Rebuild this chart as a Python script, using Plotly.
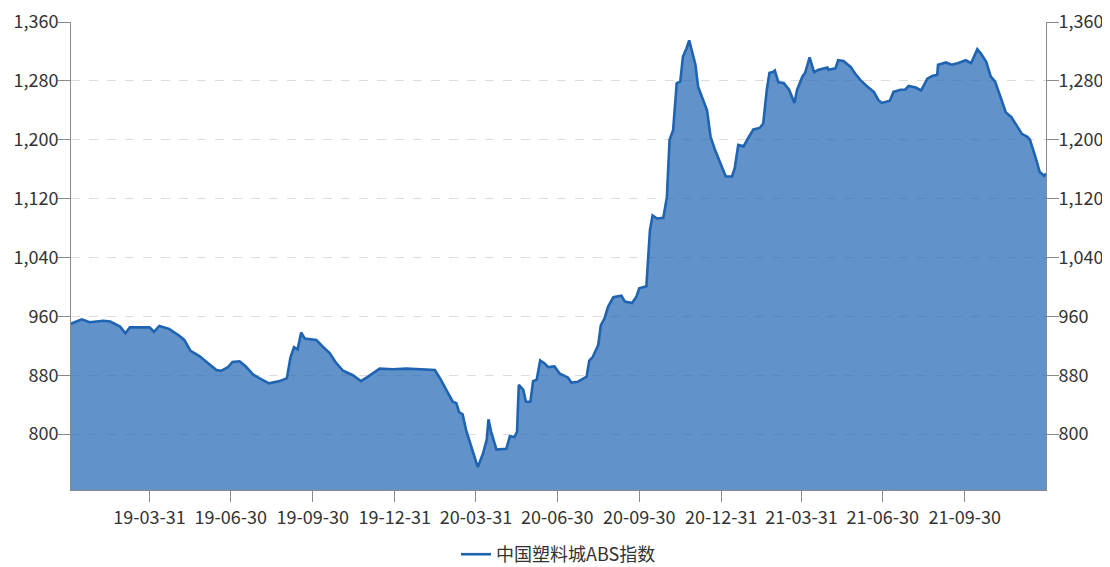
import plotly.graph_objects as go

dates = [
    "2019-01-02", "2019-01-14", "2019-01-23", "2019-02-07", "2019-02-15", "2019-02-26",
    "2019-03-04", "2019-03-09", "2019-03-31", "2019-04-05", "2019-04-11", "2019-04-22",
    "2019-05-03", "2019-05-09", "2019-05-16", "2019-05-26", "2019-06-04", "2019-06-14",
    "2019-06-19", "2019-06-27", "2019-07-02", "2019-07-10", "2019-07-17", "2019-07-25",
    "2019-08-01", "2019-08-12", "2019-08-24", "2019-09-01", "2019-09-05", "2019-09-09",
    "2019-09-13", "2019-09-17", "2019-09-21", "2019-10-04", "2019-10-11", "2019-10-19",
    "2019-10-26", "2019-11-03", "2019-11-14", "2019-11-23", "2019-12-01", "2019-12-14",
    "2019-12-29", "2020-01-13", "2020-02-14", "2020-02-21", "2020-02-29", "2020-03-05",
    "2020-03-09", "2020-03-12", "2020-03-16", "2020-03-20", "2020-03-27", "2020-04-02",
    "2020-04-08", "2020-04-12", "2020-04-14", "2020-04-17", "2020-04-23", "2020-05-04",
    "2020-05-08", "2020-05-13", "2020-05-16", "2020-05-18", "2020-05-23", "2020-05-26",
    "2020-05-31", "2020-06-03", "2020-06-07", "2020-06-11", "2020-06-16", "2020-06-20",
    "2020-06-27", "2020-07-03", "2020-07-12", "2020-07-16", "2020-07-23", "2020-08-02",
    "2020-08-05", "2020-08-09", "2020-08-15", "2020-08-18", "2020-08-22", "2020-08-26",
    "2020-09-01", "2020-09-10", "2020-09-14", "2020-09-22", "2020-09-27", "2020-09-30",
    "2020-10-08", "2020-10-10", "2020-10-12", "2020-10-15", "2020-10-20", "2020-10-27",
    "2020-10-31", "2020-11-03", "2020-11-07", "2020-11-11", "2020-11-15", "2020-11-18",
    "2020-11-22", "2020-11-25", "2020-11-28", "2020-12-02", "2020-12-05", "2020-12-11",
    "2020-12-15", "2020-12-19", "2020-12-24", "2020-12-30", "2021-01-05", "2021-01-12",
    "2021-01-15", "2021-01-19", "2021-01-25", "2021-01-30", "2021-02-05", "2021-02-12",
    "2021-02-16", "2021-02-20", "2021-02-23", "2021-02-27", "2021-03-01", "2021-03-05",
    "2021-03-11", "2021-03-17", "2021-03-23", "2021-03-26", "2021-04-01", "2021-04-04",
    "2021-04-09", "2021-04-14", "2021-04-19", "2021-04-29", "2021-04-30", "2021-05-08",
    "2021-05-11", "2021-05-17", "2021-05-25", "2021-05-30", "2021-06-05", "2021-06-12",
    "2021-06-20", "2021-06-25", "2021-06-29", "2021-07-08", "2021-07-12", "2021-07-20",
    "2021-07-25", "2021-07-29", "2021-08-06", "2021-08-12", "2021-08-19", "2021-08-25",
    "2021-08-30", "2021-08-31", "2021-09-09", "2021-09-15", "2021-09-22", "2021-10-01",
    "2021-10-07", "2021-10-14", "2021-10-18", "2021-10-24", "2021-10-29", "2021-11-03",
    "2021-11-08", "2021-11-15", "2021-11-21", "2021-11-26", "2021-12-03", "2021-12-09",
    "2021-12-12", "2021-12-18", "2021-12-23", "2021-12-28", "2021-12-30",
]

abs_index = [
    950, 956, 952, 954, 953, 946,
    937, 945, 945, 939, 947, 943,
    934, 928, 913, 906, 897, 887,
    886, 891, 898, 899, 892, 881,
    876, 869, 872, 876, 904, 918,
    915, 938, 930, 928, 919, 910,
    897, 886, 880, 872, 878, 889,
    888, 889, 887, 873, 855, 844,
    842, 830, 827, 805, 778, 755,
    774, 792, 820, 803, 779, 780,
    797, 796, 803, 867, 860, 844,
    844, 872, 874, 900, 896, 891,
    892, 882, 877, 870, 871, 878,
    900, 905, 921, 948, 957, 973,
    986, 988, 980, 978, 987, 998,
    1001, 1036, 1077, 1097, 1093, 1094,
    1122, 1200, 1213, 1277, 1279, 1313,
    1324, 1335, 1320, 1302, 1272, 1252,
    1240, 1204, 1186, 1168, 1150, 1150,
    1161, 1193, 1191, 1202, 1214, 1216,
    1222, 1268, 1291, 1292, 1294, 1278,
    1277, 1268, 1250, 1268, 1286, 1291,
    1312, 1292, 1295, 1298, 1295, 1297,
    1308, 1307, 1299, 1290, 1281, 1273,
    1265, 1254, 1250, 1253, 1265, 1268,
    1268, 1273, 1271, 1267, 1283, 1287,
    1288, 1302, 1305, 1302, 1304, 1308,
    1304, 1323, 1317, 1306, 1286, 1279,
    1261, 1237, 1231, 1222, 1208, 1204,
    1200, 1177, 1156, 1151, 1154,
]

x_tick_dates = ["2019-03-31", "2019-06-30", "2019-09-30", "2019-12-31", "2020-03-31",
                "2020-06-30", "2020-09-30", "2020-12-31", "2021-03-31", "2021-06-30",
                "2021-09-30"]
x_tick_labels = ["19-03-31", "19-06-30", "19-09-30", "19-12-31", "20-03-31",
                 "20-06-30", "20-09-30", "20-12-31", "21-03-31", "21-06-30",
                 "21-09-30"]
y_ticks = [800, 880, 960, 1040, 1120, 1200, 1280, 1360]
y_range = [724, 1360]
series_name = "中国塑料城ABS指数"

line_color = "rgb(30,100,178)"
fill_color = "rgba(30,100,178,0.7)"
axis_color = "#8a8a8a"
font_family = "Noto Sans CJK SC, Noto Sans, sans-serif"
fsize = 18

axis_common = dict(
    showline=True, linecolor=axis_color, linewidth=1,
    ticks="outside", tickcolor=axis_color, tickwidth=1,
    tickfont=dict(size=fsize, color="#333333", family=font_family),
    zeroline=False, automargin=False,
)

fig = go.Figure()
# filled area (no legend entry)
fig.add_trace(go.Scatter(
    x=dates, y=abs_index, mode="lines", showlegend=False, hoverinfo="skip",
    line=dict(width=0, color=line_color), fill="tozeroy", fillcolor=fill_color,
))
# outline, drawn on the overlaying axis so it sits above the fill
fig.add_trace(go.Scatter(
    x=dates, y=abs_index, name=series_name, mode="lines", yaxis="y2",
    line=dict(color=line_color, width=2.6),
))

# page body has an 8px offset; figure sized accordingly
fig.update_layout(
    width=1110, height=567,
    margin=dict(l=63, r=72, t=14, b=85, autoexpand=False),
    paper_bgcolor="white", plot_bgcolor="white",
    font=dict(family=font_family, size=fsize, color="#333333"),
    showlegend=True,
    legend=dict(orientation="h", x=0.5, xanchor="center", y=-0.1774, yanchor="bottom",
                font=dict(size=fsize, color="#333333")),
    xaxis=dict(
        type="date", range=[dates[0], dates[-1]],
        tickvals=x_tick_dates, ticktext=x_tick_labels,
        showgrid=False, ticklen=11, **axis_common,
    ),
    yaxis=dict(
        range=y_range, tickvals=y_ticks, tickformat=",", ticklabeloverflow="allow",
        showgrid=True, gridcolor="#dddddd", griddash="dash", gridwidth=1,
        ticklen=12, ticklabelstandoff=-4, **axis_common,
    ),
    yaxis2=dict(
        range=y_range, tickvals=y_ticks, tickformat=",", overlaying="y", side="right",
        ticklabeloverflow="allow", showgrid=False, ticklen=12, ticklabelstandoff=-4,
        **axis_common,
    ),
)

fig.write_html("out.html")
